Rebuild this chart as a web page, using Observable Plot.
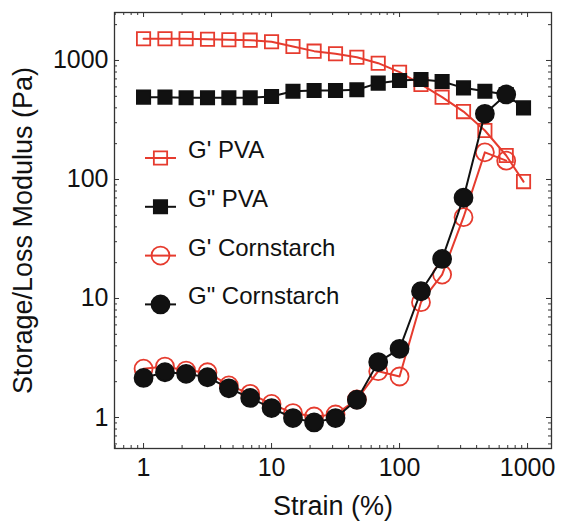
<!DOCTYPE html>
<html>
<head>
<meta charset="utf-8">
<script src="https://cdn.jsdelivr.net/npm/d3@7"></script>
<script src="https://cdn.jsdelivr.net/npm/@observablehq/plot@0.6"></script>
<style>
  html, body { margin: 0; padding: 0; background: #fff; }
  #chart svg { display: block; }
</style>
</head>
<body>
<div id="chart"></div>
<script>
// ---- data ----
const strain = [1, 1.47, 2.15, 3.16, 4.64, 6.81, 10, 14.7, 21.5, 31.6, 46.4, 68.1, 100, 147, 215, 316, 464, 681, 930];
const gPrimePVA = [1521, 1521, 1521, 1510, 1493, 1482, 1435, 1311, 1198, 1138, 1066, 949, 797, 629, 492, 372, 258, 159, 96];
const gDoublePVA = [492, 492, 486, 486, 486, 486, 498, 552, 560, 560, 567, 645, 679, 692, 666, 589, 552, 518, 400];
const gPrimeCorn = [2.57, 2.68, 2.48, 2.40, 1.86, 1.58, 1.30, 1.09, 1.02, 1.06, 1.42, 2.45, 2.21, 9.31, 15.9, 48.2, 169, 144];
const gDoubleCorn = [2.15, 2.40, 2.33, 2.18, 1.76, 1.46, 1.20, 0.99, 0.91, 0.99, 1.41, 2.92, 3.78, 11.5, 21.5, 70.2, 356, 518];
const seriesNames = ["G' PVA", "G\" PVA", "G' Cornstarch", "G\" Cornstarch"];
const xTicks = [1, 10, 100, 1000];
const yTicks = [1, 10, 100, 1000];

const RED = "#e63b2e", BLACK = "#111111";
const styles = [
  {symbol: "square", r: 7.5, fill: "none", stroke: RED},
  {symbol: "square", r: 7.5, fill: BLACK, stroke: BLACK},
  {symbol: "circle", r: 9, fill: "none", stroke: RED},
  {symbol: "circle", r: 9, fill: BLACK, stroke: BLACK}
];
const valuesList = [gPrimePVA, gDoublePVA, gPrimeCorn, gDoubleCorn];
const series = valuesList.map((vals, i) => vals.map((v, j) => ({strain: strain[j], value: v, series: seriesNames[i]})));

// ---- layout ----
const W = 561, H = 523;
const mL = 114, mR = 10, mT = 12, mB = 75;
const innerH = H - mT - mB, innerW = W - mL - mR;
const xDomain = [0.593, 1538], yDomain = [0.549, 2530];
const minors = (lo, hi) => {
  const out = [];
  for (let e = -1; e <= 3; e++) for (let m = 2; m <= 9; m++) {
    const v = m * Math.pow(10, e);
    if (v > lo && v < hi) out.push(v);
  }
  return out;
};
const xMinor = minors(...xDomain), yMinor = minors(...yDomain);
const font = "'Liberation Sans', Arial, Helvetica, sans-serif";
const tickStroke = "#333";
const majLen = 5, minLen = 3;

const marks = [];
// inward ticks on all four sides
for (const [vals, len] of [[xTicks, majLen], [xMinor, minLen]]) {
  marks.push(Plot.tickX(vals, {x: d => d, insetTop: innerH - len, stroke: tickStroke, strokeWidth: 1}));
  marks.push(Plot.tickX(vals, {x: d => d, insetBottom: innerH - len, stroke: tickStroke, strokeWidth: 1}));
}
for (const [vals, len] of [[yTicks, majLen], [yMinor, minLen]]) {
  marks.push(Plot.tickY(vals, {y: d => d, insetRight: innerW - len, stroke: tickStroke, strokeWidth: 1}));
  marks.push(Plot.tickY(vals, {y: d => d, insetLeft: innerW - len, stroke: tickStroke, strokeWidth: 1}));
}
marks.push(Plot.axisX(xTicks, {tickSize: 0, tickPadding: 10, tickFormat: d => String(d), fontSize: 25, fill: "#111", label: null}));
marks.push(Plot.axisY(yTicks, {tickSize: 0, tickPadding: 6, tickFormat: d => String(d), fontSize: 25, fill: "#111", label: null}));

series.forEach((data, i) => {
  const s = styles[i];
  marks.push(Plot.line(data, {x: "strain", y: "value", stroke: s.stroke, strokeWidth: 2}));
  marks.push(Plot.dot(data, {x: "strain", y: "value", symbol: s.symbol, r: s.r, fill: s.fill, stroke: s.stroke, strokeWidth: 1.8}));
});
marks.push(Plot.frame({stroke: "#333", strokeWidth: 1.3}));
marks.push(Plot.text(["Strain (%)"], {text: d => d, frameAnchor: "bottom", lineAnchor: "middle", textAnchor: "middle", dy: 58, fontSize: 27, fill: "#111"}));
marks.push(Plot.text(["Storage/Loss Modulus (Pa)"], {text: d => d, frameAnchor: "left", lineAnchor: "middle", textAnchor: "middle", dx: -91, rotate: -90, fontSize: 27, fill: "#111"}));

const chart = Plot.plot({
  width: W, height: H,
  marginLeft: mL, marginRight: mR, marginTop: mT, marginBottom: mB,
  style: {fontFamily: font, background: "#fff", overflow: "visible"},
  x: {type: "log", domain: xDomain, axis: null},
  y: {type: "log", domain: yDomain, axis: null},
  marks
});
document.getElementById("chart").appendChild(chart);

// ---- legend inside the frame ----
const svg = d3.select(chart);
const lg = svg.append("g").attr("font-family", font).attr("font-size", 24).attr("fill", "#111").attr("text-anchor", "start");
seriesNames.forEach((name, i) => {
  const s = styles[i];
  const y = 158 + i * 48.8;
  const g = lg.append("g").attr("transform", `translate(0,${y})`);
  g.append("line").attr("x1", 145).attr("x2", 176).attr("y1", 0).attr("y2", 0)
    .attr("stroke", s.stroke).attr("stroke-width", 2);
  const sym = s.symbol === "square" ? d3.symbolSquare : d3.symbolCircle;
  g.append("path").attr("transform", "translate(160.5,0)")
    .attr("d", d3.symbol(sym, Math.PI * s.r * s.r)())
    .attr("fill", s.fill).attr("stroke", s.stroke).attr("stroke-width", 1.8);
  g.append("text").attr("x", 188).attr("y", 0).attr("text-anchor", "start").text(name);
});
</script>
</body>
</html>
